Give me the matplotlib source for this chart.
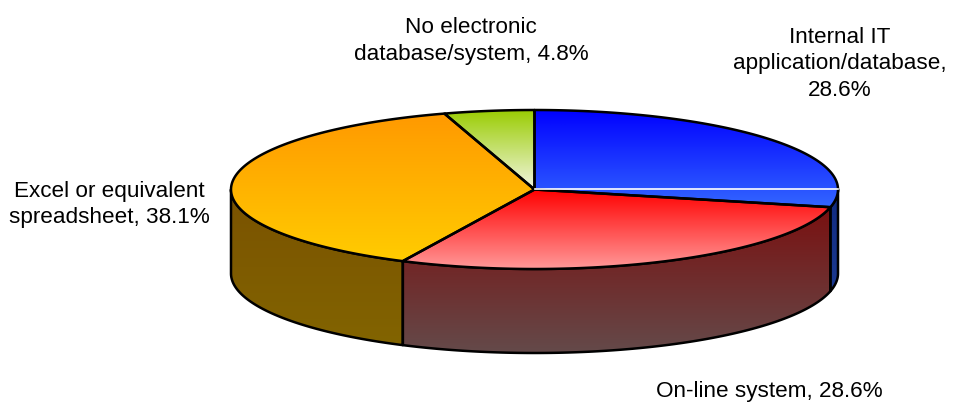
import numpy as np
import matplotlib
matplotlib.use('Agg')
import matplotlib.pyplot as plt
from matplotlib.colors import LinearSegmentedColormap
from matplotlib.patches import Polygon

plt.rcParams['font.family'] = ['Liberation Sans', 'DejaVu Sans']

# slices, clockwise from 12 o'clock
labels = ['Internal IT\napplication/database,\n28.6%', 'On-line system, 28.6%',
          'Excel or equivalent\nspreadsheet, 38.1%', 'No electronic\ndatabase/system, 4.8%']
values = [28.6, 28.6, 38.1, 4.8]
top_colors = [('#0000ff', '#3366ff'), ('#ff0000', '#ff9999'), ('#ff9900', '#ffcc00'), ('#99cc00', '#f2f6e0')]
side_colors = [('#102a80', '#1c3a90'), ('#7a1010', '#644a4a'), ('#7a5200', '#826400'), ('#4c6600', '#79805f')]
label_pos = [(840, 64), (769, 391), (109, 204.5), (471, 41)]

W, H = 954, 403
cx, cy, rx, ry, depth = 534.5, 189.5, 303.5, 79.5, 84

fig = plt.figure(figsize=(W / 100, H / 100), dpi=100)
ax = fig.add_axes([0, 0, 1, 1])
ax.set_xlim(0, W)
ax.set_ylim(H, 0)
ax.axis('off')


def rim(a, b, n=200):
    t = np.linspace(a, b, n)
    return cx + rx * np.sin(t), cy - ry * np.cos(t)


def gradient(poly, c0, c1, zorder):
    # vertical fade clipped to the shape
    cmap = LinearSegmentedColormap.from_list('g', [c0, c1])
    ys = poly[:, 1]
    im = ax.imshow(np.linspace(0, 1, 256)[:, None], cmap=cmap, aspect='auto', zorder=zorder,
                   extent=(poly[:, 0].min(), poly[:, 0].max(), ys.max(), ys.min()))
    patch = Polygon(poly, closed=True, fc='none', ec='black', lw=1.8, zorder=zorder + 0.5, joinstyle='round')
    ax.add_patch(patch)
    im.set_clip_path(patch)


edges = np.cumsum([0] + values) / sum(values) * 2 * np.pi

# side walls, only the part of each slice facing the viewer
for i in range(len(values)):
    a, b = max(edges[i], np.pi / 2), min(edges[i + 1], 3 * np.pi / 2)
    if a >= b:
        continue
    x, y = rim(a, b)
    poly = np.column_stack([np.r_[x, x[::-1]], np.r_[y, y[::-1] + depth]])
    gradient(poly, side_colors[i][0], side_colors[i][1], 2)

# top faces
for i in range(len(values)):
    x, y = rim(edges[i], edges[i + 1])
    poly = np.column_stack([np.r_[cx, x], np.r_[cy, y]])
    gradient(poly, top_colors[i][0], top_colors[i][1], 3)

# thin white line in the blue slice
ax.plot([cx + 1, cx + rx], [cy - 1, cy - 1], color='white', lw=1.2, zorder=5)

for lab, (x, y) in zip(labels, label_pos):
    ax.text(x, y, lab, ha='center', va='center', fontsize=16.2, color='black', linespacing=1.35, zorder=6)

ax.set_xlim(0, W)
ax.set_ylim(H, 0)
fig.savefig('out.png', dpi=100)
